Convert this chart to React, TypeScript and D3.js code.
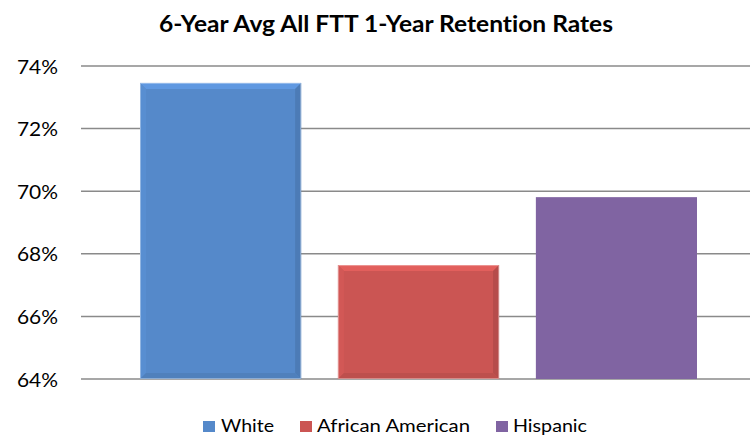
import React from "react";
import * as d3 from "d3";

const title = "6-Year Avg All FTT 1-Year Retention Rates";
const seriesNames = ["White", "African American", "Hispanic"];
const seriesValues = [73.46, 67.64, 69.81];
const seriesColors = ["#5589CA", "#CB5553", "#8064A2"];
const seriesBevel = [true, true, false];
const yTicks = [64, 66, 68, 70, 72, 74];

const W = 750;
const H = 436;
const plot = { left: 81, right: 750, top: 66, bottom: 379 };

function Bar({ x, y, w, h, color, bevel }: any) {
  if (!bevel) return <rect x={x} y={y} width={w} height={h} fill={color} />;
  const b = 6;
  const c = d3.color(color)!;
  const light = c.brighter(0.3).formatHex();
  const lighter = c.brighter(0.1).formatHex();
  const dark = c.darker(0.3).formatHex();
  const darker = c.darker(0.2).formatHex();
  return (
    <g>
      <rect x={x} y={y} width={w} height={h} fill={color} />
      <polygon points={`${x},${y} ${x + w},${y} ${x + w - b},${y + b} ${x + b},${y + b}`} fill={light} />
      <polygon points={`${x},${y} ${x + b},${y + b} ${x + b},${y + h - b} ${x},${y + h}`} fill={lighter} />
      <polygon points={`${x + w},${y} ${x + w},${y + h} ${x + w - b},${y + h - b} ${x + w - b},${y + b}`} fill={dark} />
      <polygon points={`${x},${y + h} ${x + w},${y + h} ${x + w - b},${y + h - b} ${x + b},${y + h - b}`} fill={darker} />
      <rect x={x + 0.5} y={y + 0.5} width={w - 1} height={h - 1} fill="none" stroke="#ffffff" strokeOpacity={0.35} strokeWidth={1} />
    </g>
  );
}

export default function App() {
  const y = d3.scaleLinear().domain([64, 74]).range([plot.bottom, plot.top]);
  const x = d3
    .scaleBand()
    .domain(seriesNames)
    .range([140, 697])
    .paddingInner(37 / 199)
    .paddingOuter(0);
  const bw = x.bandwidth();
  const font = "Lato, 'Open Sans', 'Noto Sans', sans-serif";
  const legendItems = [
    { sx: 203, tx: 221, tw: 53 },
    { sx: 300, tx: 317, tw: 153 },
    { sx: 496, tx: 513, tw: 74 },
  ];
  return (
    <svg
      width={W}
      height={H}
      style={{ position: "absolute", left: 0, top: 0, fontVariantLigatures: "none" }}
      fontFamily={font}
    >
      <rect width={W} height={H} fill="#ffffff" />
      <text x={159} y={32} fontSize={22} fontWeight="bold" fill="#000" textLength={454} lengthAdjust="spacingAndGlyphs">
        {title}
      </text>
      {yTicks.map((t) => (
        <g key={t}>
          <line x1={plot.left} x2={plot.right} y1={y(t)} y2={y(t)} stroke="#8a8a8a" strokeWidth={1.5} />
          <text x={17} y={y(t) + 7.5} fontSize={20} fill="#000" textLength={41} lengthAdjust="spacingAndGlyphs">
            {t}%
          </text>
        </g>
      ))}
      {seriesNames.map((n, i) => (
        <Bar
          key={n}
          x={x(n)!}
          y={y(seriesValues[i])}
          w={bw}
          h={y(64) - y(seriesValues[i])}
          color={seriesColors[i]}
          bevel={seriesBevel[i]}
        />
      ))}
      {seriesNames.map((n, i) => (
        <g key={n}>
          <rect x={legendItems[i].sx} y={421} width={12} height={11} fill={seriesColors[i]} />
          <text x={legendItems[i].tx} y={432} fontSize={17} fill="#000" textLength={legendItems[i].tw} lengthAdjust="spacingAndGlyphs">
            {n}
          </text>
        </g>
      ))}
    </svg>
  );
}
